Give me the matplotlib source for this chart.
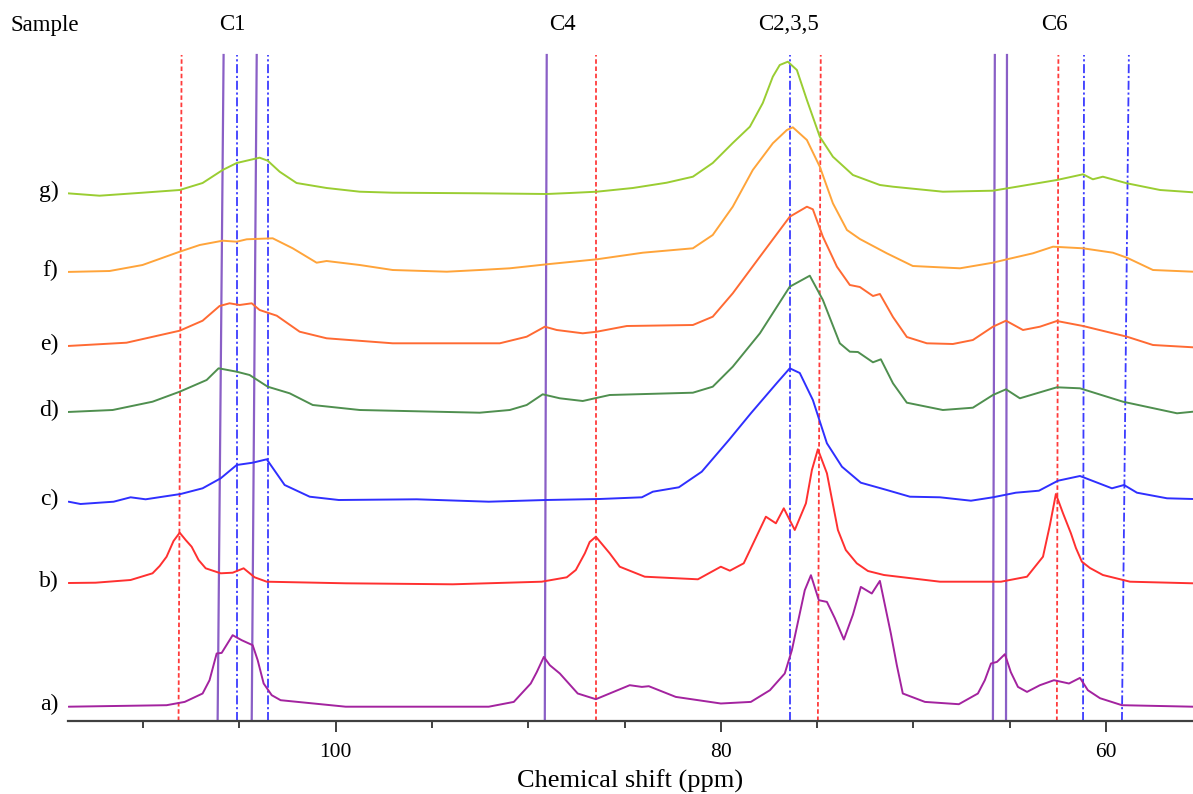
import matplotlib
matplotlib.use("Agg")
import matplotlib.pyplot as plt
from matplotlib.ticker import MultipleLocator

plt.rcParams['font.family'] = ['Liberation Serif', 'DejaVu Serif']

# ---- data: chemical shift (ppm) and intensity (arbitrary units, relative to each baseline)
a_ppm = [113.87, 108.78, 107.84, 106.91, 106.55, 106.18, 105.92, 105.35, 104.88, 104.31, 104.05, 103.74,
         103.32, 102.86, 99.48, 92.05, 90.75, 89.87, 89.56, 89.19, 88.88, 88.36, 87.43, 86.49, 84.73, 84.10,
         83.74, 82.34, 80.00, 78.44, 77.45, 76.68, 76.31, 75.90, 75.64, 75.32, 74.91, 74.49, 74.08, 73.61,
         73.14, 72.73, 72.16, 71.74, 71.17, 70.86, 70.55, 69.40, 67.64, 66.65, 66.29, 65.97, 65.66, 65.25,
         64.94, 64.57, 64.10, 63.43, 62.70, 61.92, 61.35, 60.94, 60.31, 59.17, 55.48]
a_int = [0, 1.5, 4.8, 13.2, 26.5, 53.2, 53.8, 71.5, 66.5, 61.5, 46.5, 23.2,
         11.5, 6.5, 0, 0, 4.8, 23.2, 34.5, 49.8, 41.5, 33.2, 13.2, 7.5, 21.5, 19.8,
         20.5, 9.8, 3.2, 4.8, 16.5, 33.2, 56.5, 93.2, 116.5, 131.5, 106.5, 104.8, 88.5, 67.2,
         92.0, 119.8, 113.2, 125.8, 73.2, 41.5, 13.2, 4.8, 2.5, 13.2, 26.5, 43.2, 44.8, 52.5,
         34.5, 19.8, 14.8, 21.5, 26.5, 23.2, 28.8, 16.5, 8.5, 1.5, 0]

b_ppm = [113.87, 112.47, 110.65, 109.51, 109.14, 108.78, 108.42, 108.10, 107.79, 107.48, 107.12, 106.75,
         105.97, 105.35, 104.78, 104.21, 103.58, 99.48, 93.92, 89.30, 88.00, 87.53, 87.06, 86.81, 86.49,
         86.13, 85.77, 85.25, 83.95, 81.19, 80.00, 79.53, 78.81, 77.66, 77.14, 76.73, 76.16, 75.58, 75.27,
         74.96, 74.49, 73.92, 73.51, 72.94, 72.36, 71.53, 68.62, 65.45, 64.10, 63.27, 62.91, 62.60, 62.23,
         61.82, 61.56, 61.25, 60.83, 60.16, 58.75, 55.48]
b_int = [0, 0.3, 3, 9.7, 17, 26.3, 42, 50.3, 43, 36.3, 23, 14.7,
         9.7, 10.3, 14.7, 5.7, 1.3, -0.3, -1.3, 1.3, 5.7, 13, 29.7, 41, 46.3,
         38, 29.7, 16.3, 6.3, 3.7, 16.3, 12.3, 19.7, 66.3, 59.7, 74.7, 53.0, 79.7, 113,
         133.7, 109.7, 53.0, 33, 19.7, 12, 8.0, 1.3, 1.3, 6.3, 26.3, 58, 89.0, 69.7,
         49.7, 35, 21.3, 15, 8.0, 1.3, -0.3]

c_ppm = [113.87, 113.25, 111.53, 110.65, 109.87, 108.05, 106.91, 105.97, 105.14, 104.31, 103.58, 102.65,
         101.35, 99.84, 95.79, 92.05, 89.09, 86.29, 84.10, 83.53, 82.18, 80.99, 79.58, 78.44, 77.09, 76.42,
         75.90, 75.22, 74.49, 73.71, 72.73, 71.38, 70.18, 68.62, 67.01, 65.87, 64.68, 63.48, 62.49, 61.35,
         59.69, 59.06, 58.39, 56.83, 55.48]
c_int = [-0.7, -3, -0.7, 3.7, 1.7, 7, 12.7, 22.7, 36, 38.3, 41.7, 16,
         4.3, 1, 1.7, -0.7, 1, 2, 3.7, 9.3, 13.7, 29.3, 61, 87.7, 118, 132.7,
         128, 101, 57.7, 34.3, 18.3, 11, 4.3, 3.7, 0.3, 3.7, 8.3, 10.3, 20.3, 25,
         12.7, 16, 8.3, 2.7, 2]

d_ppm = [113.92, 111.58, 109.51, 108.10, 106.70, 106.08, 105.14, 104.47, 103.53, 102.39, 101.19, 98.75,
         92.52, 90.96, 90.08, 89.25, 88.36, 87.17, 85.77, 81.45, 80.42, 79.38, 77.97, 76.42, 75.38, 74.70,
         73.82, 73.30, 72.88, 72.10, 71.69, 71.06, 70.34, 68.47, 66.91, 65.87, 65.19, 64.47, 62.55, 61.35,
         59.12, 56.31, 55.48]
d_int = [0, 2, 10.3, 20.3, 32, 43.7, 40.3, 37, 25.3, 18.7, 7, 2,
         -0.7, 2, 7, 17.7, 13.7, 11, 17, 19.3, 25.3, 45.3, 78.7, 125.3, 136.3, 112,
         68.7, 60.3, 60, 49.7, 52.7, 28.7, 9.3, 2, 4.3, 17, 22.7, 13.7, 24.7, 23.7,
         10.3, -1.3, 0.3]

e_ppm = [113.92, 110.86, 108.10, 106.91, 106.03, 105.51, 104.99, 104.36, 103.95, 103.06, 101.87, 100.47,
         97.04, 92.52, 91.48, 90.08, 89.14, 88.52, 87.17, 86.44, 84.88, 81.45, 80.42, 79.38, 77.97, 76.42,
         75.53, 75.22, 74.70, 73.97, 73.30, 72.78, 72.10, 71.74, 71.06, 70.34, 69.30, 67.95, 66.91, 65.87,
         65.19, 64.31, 63.43, 62.55, 61.19, 58.91, 57.56, 55.48]
e_int = [0, 3.3, 15.3, 25.3, 40, 42.7, 41, 42.7, 36, 30.3, 14.3, 7.7,
         2.7, 2.7, 2.7, 9.3, 19.3, 16, 12.7, 14.3, 20, 21, 29.3, 52.7, 89.3, 129.3,
         139.3, 136.7, 109.3, 79.3, 61, 59, 50, 52, 29, 9, 2.7, 2, 6, 19.3,
         25.3, 16, 19.3, 25, 20, 9.3, 1, -1.3]

f_ppm = [114.08, 111.74, 110.03, 108.10, 107.06, 105.87, 105.14, 104.62, 103.27, 102.23, 100.99, 100.47,
         98.75, 97.04, 94.23, 92.52, 90.96, 89.04, 86.44, 84.05, 81.45, 80.42, 79.38, 78.34, 77.30, 76.57,
         76.26, 75.53, 74.86, 74.18, 73.45, 72.78, 71.38, 70.03, 67.58, 65.87, 65.14, 63.79, 62.75, 61.19,
         59.64, 58.91, 57.56, 55.48]
f_int = [0, 1, 7, 20.3, 27, 31.3, 30.3, 32.7, 33.7, 23.7, 9.3, 11,
         7, 2, 0.3, 2, 3.7, 7.7, 12.7, 19.3, 23.7, 37, 65.3, 102, 128.7, 142,
         144.7, 132, 105.3, 68.7, 42, 33, 18.7, 6, 3.7, 9.3, 12.7, 18.7, 25.3, 23.7,
         19.3, 14.3, 2, 0.3]

g_ppm = [114.13, 112.26, 110.03, 108.10, 106.91, 105.87, 105.14, 104.47, 103.95, 103.53, 102.91, 102.03,
         100.47, 98.75, 97.04, 92.52, 89.04, 87.84, 86.44, 84.57, 82.81, 81.45, 80.42, 79.38, 78.49, 77.82,
         77.30, 76.94, 76.52, 76.05, 75.53, 74.86, 74.18, 73.14, 71.74, 71.06, 68.47, 65.87, 64.62, 62.55,
         61.19, 60.68, 60.16, 58.91, 57.19, 55.48]
g_int = [0, -2.7, 0.3, 3, 10, 23, 30, 33, 35.3, 32.3, 21.3, 10,
         5, 1.3, 0.3, -0.3, -1, 0, 1.3, 5, 10.3, 16.3, 30, 50, 66.3, 90,
         116.3, 128, 131.3, 123, 93, 56.3, 36.3, 18, 8, 6.3, 1.3, 2.3, 6.3, 13,
         18.7, 13.7, 16.3, 9.7, 3, 0.7]

sample_labels = ['a)', 'b)', 'c)', 'd)', 'e)', 'f)', 'g)']
offsets = [14.3, 138, 220, 309, 375, 449, 528]
colors = ['#a3239f', '#ff3030', '#2f2fff', '#4f8f4f', '#ff6a33', '#ffa43a', '#9acd32']

# reference lines (ppm at bottom and top of each line)
red_bottom = [108.16, 86.47, 74.96, 62.55]
red_top = [108.00, 86.47, 74.81, 62.47]
purple_bottom = [106.13, 104.36, 89.14, 65.87, 65.19]
purple_top = [105.82, 104.10, 89.04, 65.77, 65.14]
blue_bottom = [105.14, 103.53, 76.42, 61.19, 59.17]
blue_top = [105.14, 103.53, 76.42, 61.14, 58.81]
line_height = 666

carbon_labels = ['C1', 'C4', 'C2,3,5', 'C6']
carbon_pos = [105.35, 88.21, 76.47, 62.70]

# ---- figure
W, H = 1193, 794
fig = plt.figure(figsize=(W / 100, H / 100), dpi=100)
ax = fig.add_axes([68 / W, 73 / H, 1 - 68 / W, 721 / H])
ax.set_xlim(113.9, 55.48)
ax.set_ylim(0, 721)

for xb, xt in zip(red_bottom, red_top):
    ax.plot([xb, xt], [0, line_height], color='#ff3b3b', lw=1.3, ls=(0, (2.5, 1.5)), zorder=1)
for xb, xt in zip(purple_bottom, purple_top):
    ax.plot([xb, xt], [0, line_height], color='#8a5fc6', lw=1.6, ls='-', zorder=1)
for xb, xt in zip(blue_bottom, blue_top):
    ax.plot([xb, xt], [0, line_height], color='#3b3bff', lw=1.3, ls=(0, (5, 1.5, 1.2, 1.5)), zorder=1)

series = [(a_ppm, a_int), (b_ppm, b_int), (c_ppm, c_int), (d_ppm, d_int),
          (e_ppm, e_int), (f_ppm, f_int), (g_ppm, g_int)]
for (px, iy), off, col, lab in zip(series, offsets, colors, sample_labels):
    ax.plot(px, [off + v for v in iy], color=col, lw=1.4, zorder=2,
            solid_joinstyle='round', solid_capstyle='round')
    ax.text(-0.0085, off + 2, lab, transform=ax.get_yaxis_transform(), ha='right', va='center',
            fontsize=17, clip_on=False)

for lab, pos in zip(carbon_labels, carbon_pos):
    ax.text(pos, 696, lab, ha='center', va='center', fontsize=16.5, clip_on=False)
fig.text(10 / W, 1 - 25 / H, 'Sample', ha='left', va='center', fontsize=16.5)

for s in ['left', 'right', 'top']:
    ax.spines[s].set_visible(False)
ax.spines['bottom'].set_color('#404040')
ax.spines['bottom'].set_linewidth(1.6)
ax.set_yticks([])
ax.xaxis.set_major_locator(MultipleLocator(20))
ax.xaxis.set_minor_locator(MultipleLocator(5))
ax.tick_params(axis='x', which='major', length=8, width=1.4, color='#404040', labelsize=15.5, pad=8)
ax.tick_params(axis='x', which='minor', length=5, width=1.4, color='#404040')
ax.set_xlabel('Chemical shift (ppm)', fontsize=19, labelpad=5)

fig.savefig('out.png', dpi=100)
